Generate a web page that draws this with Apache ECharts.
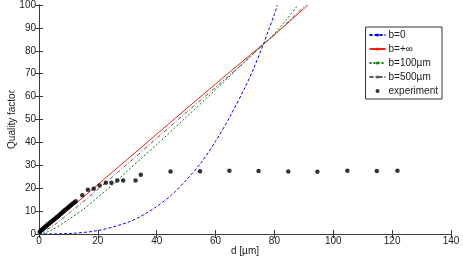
<!DOCTYPE html>
<html>
<head>
<meta charset="utf-8">
<script src="https://cdn.jsdelivr.net/npm/echarts@6/dist/echarts.min.js"></script>
<style>html,body{margin:0;padding:0;background:#fff}#c{width:463px;height:261px}</style>
</head>
<body>
<div id="c"></div>
<script>
// ---- data ----
const seriesNames = ['b=0', 'b=+\u221e', 'b=100\u00b5m', 'b=500\u00b5m', 'experiment'];

const bZero = [[0,0],[10,0.2],[20,1.5],[30,5],[35,8],[40,12],[45,17],[50,23.5],[55,31],[60,40.5],[65,51.5],[70,64],[73,72.5],[76,82],[78,89],[80,96],[81,100]];
const bInf = [[0,0],[5,5.2],[10,10.6],[20,21.6],[30,32.6],[40,43.6],[50,54.6],[60,65.5],[70,76.3],[76,82.7],[80,87],[91.4,100]];
const b100 = [[0,0],[2,0.5],[5,2.2],[10,6.3],[15,10.7],[20,16],[25,21.5],[30,27.5],[35,33.3],[40,39],[50,51],[60,63],[70,75.3],[76,82.5],[80,87.5],[84,93.5],[88,100]];
const b500 = [[0,0],[5,3.8],[10,8.8],[20,19.5],[30,30.5],[40,41.8],[50,53],[60,64],[70,75.3],[76,82.5],[80,86.9],[90.6,100]];

const expD = [0.2,0.5,0.8,1.0,1.3,1.6,1.9,2.2,2.5,2.9,3.2,3.5,3.9,4.2,4.6,5.0,5.3,5.7,6.1,6.5,6.9,7.3,7.7,8.1,8.5,8.9,9.3,9.7,10.1,10.5,10.9,11.3,11.7,12.1,12.5,
  14.7,16.6,18.6,20.6,22.7,24.6,26.6,28.6,32.8,34.6,44.7,54.7,64.7,74.6,84.7,94.6,104.8,114.8,121.8];
const expQ = [0.9,1.3,1.6,1.9,2.2,2.6,2.9,3.3,3.6,4.0,4.4,4.6,5.1,5.4,5.8,6.2,6.6,7.0,7.4,7.8,8.3,8.7,9.2,9.6,10.1,10.5,10.9,11.4,11.8,12.2,12.7,13.1,13.5,13.9,14.3,
  16.9,19.3,19.8,21.2,22.4,22.4,23.4,23.4,23.4,25.9,27.3,27.4,27.6,27.5,27.3,27.2,27.6,27.5,27.6];

const xTicks = {min:0, max:140, interval:20};
const yTicks = {min:0, max:100, interval:10};

// ---- chart ----
const expData = expD.map((d,i)=>[d, expQ[i]]);
const axisCol = '#3a3a3a';
const font = 'Liberation Sans, Arial, sans-serif';

const chart = echarts.init(document.getElementById('c'), null, {renderer:'canvas'});
chart.setOption({
  animation:false,
  backgroundColor:'#fff',
  grid:{left:39, right:12, top:5, bottom:27, containLabel:false, outerBoundsMode:'none'},
  xAxis:[{
    type:'value', min:xTicks.min, max:xTicks.max, interval:xTicks.interval,
    name:'d [\u00b5m]', nameLocation:'middle', nameGap:12, nameMoveOverlap:false,
    nameTextStyle:{fontFamily:font, fontSize:10, color:'#222'},
    axisLine:{lineStyle:{color:axisCol, width:1}},
    axisTick:{inside:true, length:4, lineStyle:{color:axisCol}},
    axisLabel:{fontFamily:font, fontSize:10, color:'#222', margin:2},
    splitLine:{show:false}
  },{
    type:'value', position:'top', min:xTicks.min, max:xTicks.max, interval:xTicks.interval,
    axisLine:{lineStyle:{color:axisCol, width:1}},
    axisTick:{inside:true, length:4, lineStyle:{color:axisCol}},
    axisLabel:{show:false}, splitLine:{show:false}
  }],
  yAxis:[{
    type:'value', min:yTicks.min, max:yTicks.max, interval:yTicks.interval,
    name:'Quality factor', nameLocation:'middle', nameGap:22, nameMoveOverlap:false,
    nameTextStyle:{fontFamily:font, fontSize:10, color:'#222'},
    axisLine:{show:true, lineStyle:{color:axisCol, width:1}},
    axisTick:{show:true, inside:true, length:4, lineStyle:{color:axisCol}},
    axisLabel:{fontFamily:font, fontSize:10, color:'#222', margin:3},
    splitLine:{show:false}
  },{
    type:'value', position:'right', min:yTicks.min, max:yTicks.max, interval:yTicks.interval,
    axisLine:{show:true, lineStyle:{color:axisCol, width:1}},
    axisTick:{show:true, inside:true, length:4, lineStyle:{color:axisCol}},
    axisLabel:{show:false}, splitLine:{show:false}
  }],
  legend:{
    orient:'vertical', right:21, top:27,
    data:seriesNames,
    itemWidth:16, itemHeight:4, itemGap:4,
    padding:[3,4,3,3],
    borderColor:'#333', borderWidth:1, backgroundColor:'#fff',
    textStyle:{fontFamily:font, fontSize:10, color:'#222', padding:[0,0,0,-2]}
  },
  series:[
    {name:seriesNames[0], type:'line', data:bZero, smooth:0.3, symbol:'none',
     lineStyle:{color:'#0000ff', width:1, type:[3,2]}, itemStyle:{color:'#0000ff'}, z:2},
    {name:seriesNames[1], type:'line', data:bInf, smooth:0.3, symbol:'none',
     lineStyle:{color:'#f02010', width:1}, itemStyle:{color:'#f02010'}, z:2},
    {name:seriesNames[2], type:'line', data:b100, smooth:0.3, symbol:'none',
     lineStyle:{color:'#008000', width:1, type:[2,2]}, itemStyle:{color:'#008000'}, z:2},
    {name:seriesNames[3], type:'line', data:b500, smooth:0.3, symbol:'none',
     lineStyle:{color:'#555', width:1, type:[4,2,1,2]}, itemStyle:{color:'#555'}, z:2},
    {name:seriesNames[4], type:'scatter', data:expData, symbol:'circle', symbolSize:4.5,
     itemStyle:{color:'#000'}, z:3}
  ]
});
</script>
</body>
</html>
